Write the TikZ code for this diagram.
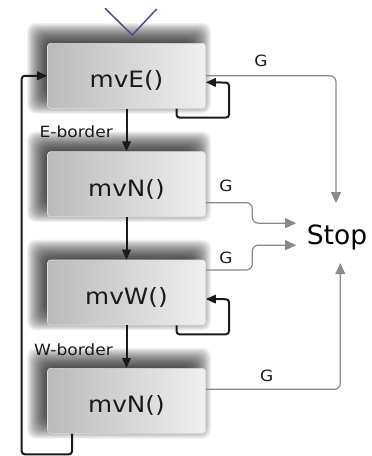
\documentclass[tikz,border=0pt]{standalone}
\usepackage{fontspec}
\setmainfont{DejaVu Sans}[FakeStretch=1.1]
\newfontfamily\stopfont{DejaVu Sans}
\usetikzlibrary{arrows.meta}

\definecolor{linkgray}{HTML}{8A8A8A}
\definecolor{startblue}{HTML}{4D4D8C}
\definecolor{inkdark}{HTML}{1A1A1A}

\pgfdeclarelayer{shadowlayer}
\pgfsetlayers{shadowlayer,main}

\tikzset{
  statebox/.style={
    draw=black!13, line width=0.6pt, rounded corners=3pt,
    minimum width=158pt, minimum height=65pt,
    left color=black!27, right color=black!6,
    text=inkdark, font=\fontsize{22.5}{26}\selectfont,
    text height=30pt, text depth=6pt
  },
  shadowstep/.style={fill=black, fill opacity=0.055, rounded corners=8pt},
  smalltext/.style={font=\fontsize{15.5}{18}\selectfont, text=inkdark, inner sep=0pt},
  blk/.style={draw=inkdark, line width=2pt, rounded corners=3pt,
              -{Triangle[length=10pt,width=8.5pt]}},
  grayline/.style={draw=linkgray, line width=1.2pt, rounded corners=6pt,
              -{Triangle[length=11pt,width=10pt]}}
}

\begin{document}
\begin{tikzpicture}[x=1pt,y=-1pt]
  \useasboundingbox (0,0) rectangle (372,456);

  % start marker
  \draw[startblue, line width=1.5pt] (105,8.3) -- (132.3,35) -- (156.7,9);

  % states
  \node[statebox] (E)  at (126.5,75.8)  {mvE()};
  \node[statebox] (N1) at (126.5,184.2) {mvN()};
  \node[statebox] (W)  at (126.5,292.5) {mvW()};
  \node[statebox] (N2) at (126.5,400.8) {mvN()};

  % soft drop shadows, thrown up and to the left
  \begin{pgfonlayer}{shadowlayer}
    \foreach \n in {E,N1,W,N2}
      \foreach \k in {-6,...,13}
        \fill[shadowstep]
          ([shift={(-7-\k,-7-\k)}]\n.north west) rectangle
          ([shift={(-8+\k,-8+\k)}]\n.south east);
  \end{pgfonlayer}

  % final state
  \node[font=\stopfont\fontsize{26.5}{30}\selectfont, text=black,
        inner xsep=10.5pt, inner ysep=0pt, text height=40.7pt, text depth=19pt,
        anchor=base] (Stop) at (337,244) {Stop};

  % transitions between moves
  \draw[blk] (E) -- (N1);
  \draw[blk] (N1) -- (W);
  \draw[blk] (W) -- (N2);
  \node[smalltext, anchor=base east] (eb) at (113,137) {E-border};
  \node[smalltext, anchor=base east] (wb) at (113,355) {W-border};

  % self loops
  \draw[blk] ([xshift=50pt]E.south) -- ++(0,9) -- ++(52.5,0) -- ++(0,-35)
             -- ([yshift=-6.5pt]E.east);
  \draw[blk] ([xshift=50pt]W.south) -- ++(0,9) -- ++(52.5,0) -- ++(0,-35)
             -- ([yshift=-6.5pt]W.east);

  % return loop
  \draw[blk] ([xshift=-54.5pt]N2.south) -- ++(0,20.7)
             -| ([xshift=-25.5pt]E.west) -- (E.west);

  % goal reached
  \draw[grayline] (E.east) -| ([xshift=-1pt]Stop.north);
  \draw[grayline] ([yshift=-18.5pt]N1.east) -| ++(46.5,20.5)
                  -- ([yshift=10pt]Stop.west);
  \draw[grayline] ([yshift=22.5pt]W.east) -| ++(46.5,-24.8)
                  -- ([yshift=-12pt]Stop.west);
  \draw[grayline] ([yshift=11.5pt]N2.east) -| ([xshift=3.3pt]Stop.south);

  \node[smalltext] (g1) at (261,61)    {G};
  \node[smalltext] (g2) at (226,186)   {G};
  \node[smalltext] (g3) at (226,257.5) {G};
  \node[smalltext] (g4) at (266.7,376) {G};
\end{tikzpicture}
\end{document}
